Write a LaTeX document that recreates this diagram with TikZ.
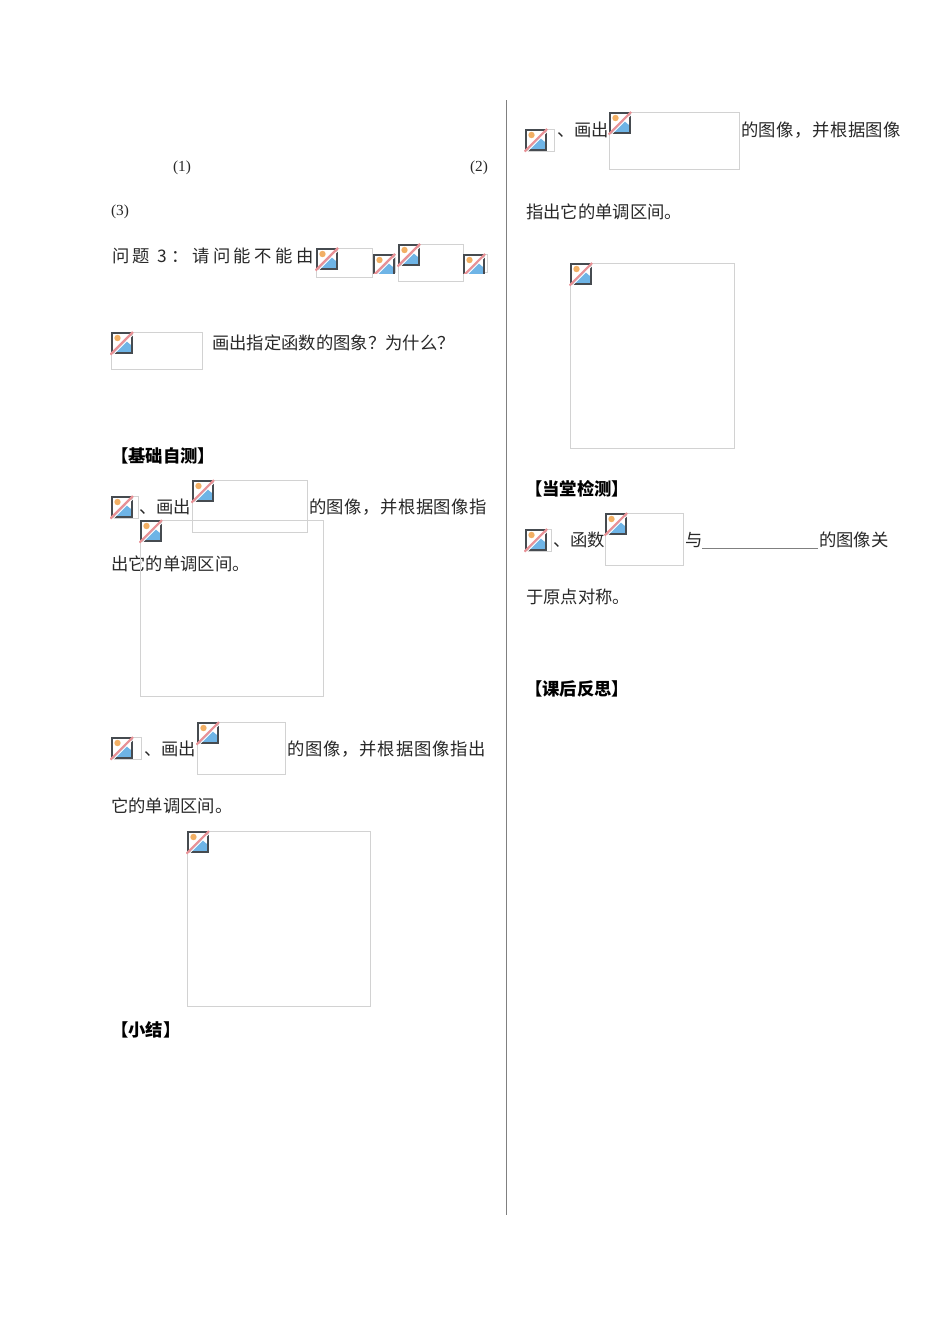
\documentclass[tikz,border=0pt]{standalone}
\usepackage{fontspec}
\setmainfont{Noto Sans CJK SC}
\newfontfamily\latinf{Liberation Serif}
\definecolor{boxgray}{RGB}{210,210,210}
\definecolor{icondark}{RGB}{70,75,80}
\definecolor{iconsky}{RGB}{255,255,255}
\definecolor{iconblue}{RGB}{110,180,230}
\definecolor{iconsun}{RGB}{242,175,100}
\definecolor{iconred}{RGB}{232,145,150}
\definecolor{textcol}{RGB}{40,40,40}
\newcommand{\brokenicon}[2]{%
  \begin{scope}[shift={(#1,#2)}]
    \fill[iconsky] (0,0) rectangle (22,22);
    \fill[iconblue] (3,20.5) -- (14,8) -- (20.5,13.5) -- (20.5,20.5) -- cycle;
    \fill[iconsun] (6.5,6) circle (3.2);
    \draw[icondark,line width=1.1pt] (.8,.8) rectangle (21.2,21.2);
    \draw[white,line width=.8pt] (1.5,23) -- (23,1.5);
    \draw[iconred,line width=1.6pt] (-.5,22.5) -- (22,0);
  \end{scope}}
% x, y, x2, y2 of the box
\newcommand{\imgbox}[4]{%
  \draw[boxgray,line width=.7pt] (#1,#2) rectangle (#3,#4);
  \begin{scope}
    \clip (#1-1,#2-1) rectangle (#3+1,#4+1);
    \brokenicon{#1}{#2}
  \end{scope}}
\tikzset{
  x=0.75pt,y=-0.75pt,
  txt/.style={anchor=west,inner sep=0pt,outer sep=0pt,text=textcol,font=\fontsize{13}{13}\selectfont},
  head/.style={txt,text=black,font=\fontsize{13}{13}\selectfont\bfseries},
  num/.style={anchor=west,inner sep=0pt,outer sep=0pt,text=textcol,font=\fontsize{11.5}{11.5}\selectfont\latinf},
  rule/.style={line width=.7pt,draw=gray}
}
\newcommand{\ls}[1]{\addfontfeature{LetterSpace=#1}}
\begin{document}
\begin{tikzpicture}
\useasboundingbox[fill=white] (0,0) rectangle (950,1317);
\coordinate (rt) at (506,100); \coordinate (rb) at (506,1215);
\draw[line width=.7pt,draw=gray] (rt) -- (rb);

\node[num] (n1) at (173,168) {(1)};
\node[num] (n2) at (470,168) {(2)};
\node[num] (n3) at (111,212) {(3)};

\node[txt] (q3) at (112,256) {\ls{21}问题 3：请问能不能由};
\imgbox{316}{248}{372}{277}
\imgbox{373}{254}{395}{272}
\imgbox{398}{244}{463}{281}
\imgbox{463}{254}{487}{272}
\imgbox{111}{332}{202}{369}
\node[txt] (q3b) at (212,343) {画出指定函数的图象？为什么？};

\node[head] (h1) at (111,456) {【基础自测】};

\imgbox{111}{496}{138}{518}
\node[txt] (t1a) at (139,507) {、画出};
\imgbox{192}{480}{307}{532}
\node[txt] (t1b) at (309,507) {\ls{3}的图像，并根据图像指};
\node[txt] (t1c) at (111,564) {出它的单调区间。};
\imgbox{140}{520}{323}{696}

\imgbox{111}{737}{141}{759}
\node[txt] (t2a) at (144,749) {、画出};
\imgbox{197}{722}{285}{774}
\node[txt] (t2b) at (287,749) {\ls{5}的图像，并根据图像指出};
\node[txt] (t2c) at (111,806) {它的单调区间。};
\imgbox{187}{831}{370}{1006}
\node[head] (h2) at (111,1030) {【小结】};

\imgbox{525}{129}{554}{151}
\node[txt] (r1a) at (557,130) {、画出};
\imgbox{609}{112}{739}{169}
\node[txt] (r1b) at (741,130) {\ls{3}的图像，并根据图像};
\node[txt] (r1c) at (526,212) {指出它的单调区间。};
\imgbox{570}{263}{734}{448}

\node[head] (h3) at (525,489) {【当堂检测】};
\imgbox{525}{529}{551}{551}
\node[txt] (r2a) at (553,540) {、函数};
\imgbox{605}{513}{683}{565}
\node[txt] (r2b) at (685,540) {与};
\coordinate (ua) at (702,548); \coordinate (ub) at (818,548);
\draw[rule] (ua) -- (ub);
\node[txt] (r2c) at (819,540) {的图像关};
\node[txt] (r2d) at (526,597) {于原点对称。};
\node[head] (h4) at (525,689) {【课后反思】};
\end{tikzpicture}
\end{document}
